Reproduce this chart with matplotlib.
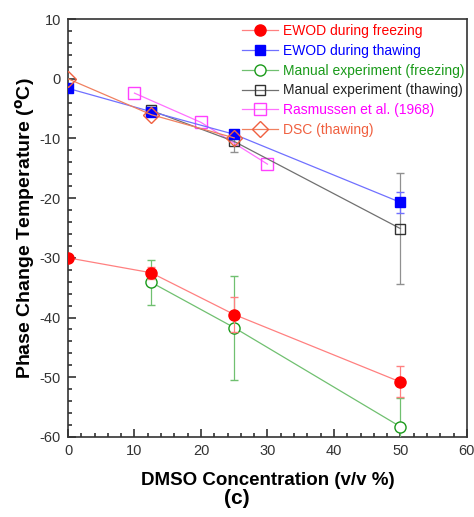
import matplotlib
matplotlib.use("Agg")
import matplotlib.pyplot as plt
from matplotlib.ticker import MultipleLocator
from matplotlib.lines import Line2D

plt.rcParams['font.family'] = ['Liberation Sans', 'DejaVu Sans']
plt.rcParams['axes.unicode_minus'] = False

# Data
x_ewod = [0, 12.5, 25, 50]
ewod_freeze = [-30.0, -32.5, -39.5, -50.8]
ewod_freeze_err = [0.0, 1.0, 3.0, 2.6]
ewod_thaw = [-1.6, -5.5, -9.3, -20.7]
ewod_thaw_err = [0.0, 0.5, 0.6, 1.8]

x_man = [12.5, 25, 50]
man_freeze = [-34.1, -41.7, -58.3]
man_freeze_err = [3.8, 8.7, 4.8]
man_thaw = [-5.3, -10.5, -25.1]
man_thaw_err = [0.5, 1.7, 9.3]

x_ras = [10, 20, 30]
ras = [-2.4, -7.3, -14.3]

x_dsc = [0, 12.5, 25]
dsc = [0.0, -6.0, -9.9]

labels = ['EWOD during freezing', 'EWOD during thawing', 'Manual experiment (freezing)',
          'Manual experiment (thawing)', 'Rasmussen et al. (1968)', 'DSC (thawing)']

fig = plt.figure(figsize=(4.74, 5.17), dpi=100)
ax = fig.add_axes([0.1435, 0.155, 0.8415, 0.808])

styles = [
    dict(color='#ff8080', marker='o', ms=8, mfc='#ff0000', mec='#ff0000'),
    dict(color='#7070ff', marker='s', ms=7, mfc='#0000ff', mec='#0000ff'),
    dict(color='#70c070', marker='o', ms=8, mfc='white', mec='#1a9a1a'),
    dict(color='#707070', marker='s', ms=7, mfc='none', mec='#333333'),
    dict(color='#ff70ff', marker='s', ms=8, mfc='none', mec='#ff40ff'),
    dict(color='#f08060', marker='D', ms=8, mfc='none', mec='#f06040'),
]

ax.errorbar(x_ewod, ewod_freeze, yerr=ewod_freeze_err, ecolor='#ff8080',
            lw=0.9, elinewidth=0.9, capsize=3, zorder=5, **styles[0])
ax.errorbar(x_ewod, ewod_thaw, yerr=ewod_thaw_err, ecolor='#7070ff',
            lw=0.9, elinewidth=0.9, capsize=3, zorder=5, **styles[1])
ax.errorbar(x_man, man_freeze, yerr=man_freeze_err, ecolor='#70c070',
            lw=0.9, elinewidth=0.9, capsize=3, zorder=4, **styles[2])
ax.errorbar(x_man, man_thaw, yerr=man_thaw_err, ecolor='#909090',
            lw=0.9, elinewidth=0.9, capsize=3, zorder=4, **styles[3])
ax.plot(x_ras, ras, lw=0.9, zorder=4, **styles[4])
ax.plot(x_dsc, dsc, lw=0.9, zorder=6, **styles[5])

ax.set_xlim(0, 60)
ax.set_ylim(-60, 10)
ax.xaxis.set_major_locator(MultipleLocator(10))
ax.xaxis.set_minor_locator(MultipleLocator(2))
ax.yaxis.set_major_locator(MultipleLocator(10))
ax.yaxis.set_minor_locator(MultipleLocator(2))
ax.tick_params(which='both', direction='in', top=False, right=False, labelsize=10.5,
               colors='#333333', pad=5)
ax.tick_params(which='major', length=6, width=1.2)
ax.tick_params(which='minor', length=3, width=1.2)
for s in ax.spines.values():
    s.set_linewidth(1.2)
    s.set_color('#333333')

ax.set_xlabel('DMSO Concentration (v/v %)', fontsize=13.5, fontweight='bold', labelpad=10)
ax.set_ylabel('Phase Change Temperature ($\\mathbf{^o}$C)', fontsize=14, fontweight='bold', labelpad=2)
fig.text(0.5, 0.035, '(c)', ha='center', va='center', fontsize=15, fontweight='bold')

handles = [Line2D([], [], lw=0.9, **st) for st in styles]
leg = ax.legend(handles, labels, loc='upper right', bbox_to_anchor=(1.0, 0.995),
                frameon=False, fontsize=10, handlelength=2.6,
                handletextpad=0.3, labelspacing=0.42, borderaxespad=0.0, borderpad=0.2)
colors = ['#ff0000', '#0000ff', '#1a9a1a', '#222222', '#ff00ff', '#f06040']
for t, c in zip(leg.get_texts(), colors):
    t.set_color(c)

fig.savefig('out.png', dpi=100)
